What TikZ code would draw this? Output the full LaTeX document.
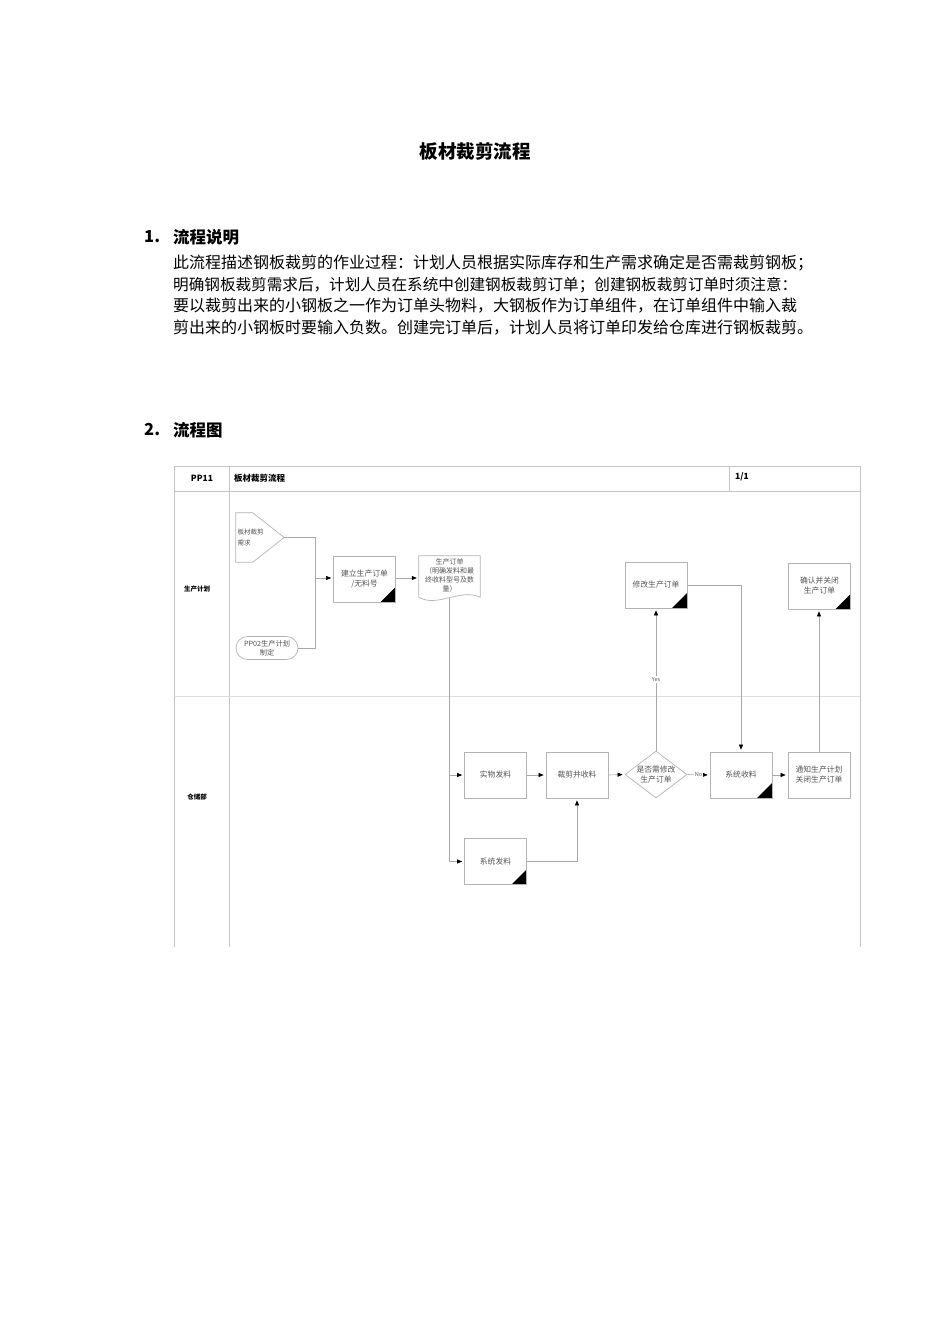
\documentclass[tikz,border=0pt]{standalone}
\usepackage{fontspec}
\setmainfont{Noto Sans CJK SC}
\usetikzlibrary{arrows.meta,shapes.geometric,shapes.misc}
\definecolor{frameC}{HTML}{C4C4C4}
\definecolor{laneC}{HTML}{DEDEDE}
\definecolor{boxC}{HTML}{B4B4B4}
\definecolor{lineC}{HTML}{A8A8A8}
\definecolor{boxtxt}{HTML}{555555}
\begin{document}
\begin{tikzpicture}[x=1pt,y=-1pt,
  frame/.style={draw=frameC,line width=0.8pt},
  lanediv/.style={draw=laneC,line width=0.8pt},
  title/.style={font=\bfseries\fontsize{18.5}{22}\selectfont,inner sep=0pt},
  heading/.style={font=\bfseries\fontsize{16.5}{20}\selectfont,inner sep=0pt,anchor=west},
  para/.style={font=\fontsize{16}{20}\selectfont,inner sep=0pt,anchor=west},
  hdr/.style={font=\bfseries\fontsize{8.5}{10}\selectfont,inner sep=0pt},
  lane/.style={font=\bfseries\fontsize{6.5}{8}\selectfont,inner sep=0pt},
  boxtext/.style={font=\fontsize{7.8}{10}\selectfont,text=boxtxt,align=center},
  box/.style={draw=boxC,line width=0.7pt,fill=white,minimum width=62pt,minimum height=46pt,inner sep=1pt,boxtext},
  corner/.style={path picture={\fill[black] (path picture bounding box.south east) -- ++(-15pt,0pt) -- ++(15pt,15pt) -- cycle;}},
  dia/.style={draw=boxC,line width=0.7pt,diamond,minimum width=62pt,minimum height=47pt,inner sep=0pt},
  conn/.style={draw=lineC,line width=0.6pt},
  arr/.style={conn,-{Triangle[length=5pt,width=4pt,color=black]},shorten >=2pt},
  lbl/.style={font=\fontsize{5.5}{6}\selectfont,text=boxtxt,fill=white,inner sep=1pt}
]
\useasboundingbox (0,0) rectangle (950,1344);
\fill[white] (0,0) rectangle (950,1344);

% ---- texts ----
\node[title] (t0) at (475,151) {板材裁剪流程};
\node[heading] (h1n) at (144,237) {1.};
\node[heading] (h1) at (173,237) {流程说明};
\node[para] (p1) at (173,263.5) {此流程描述钢板裁剪的作业过程：计划人员根据实际库存和生产需求确定是否需裁剪钢板；};
\node[para,font=\fontsize{15.6}{20}\selectfont] (p2) at (173,285) {明确钢板裁剪需求后，计划人员在系统中创建钢板裁剪订单；创建钢板裁剪订单时须注意：};
\node[para] (p3) at (173,306) {要以裁剪出来的小钢板之一作为订单头物料，大钢板作为订单组件，在订单组件中输入裁};
\node[para] (p4) at (173,327.5) {剪出来的小钢板时要输入负数。创建完订单后，计划人员将订单印发给仓库进行钢板裁剪。};
\node[heading] (h2n) at (144,430) {2.};
\node[heading] (h2) at (173,430) {流程图};

% ---- frame ----
\draw[frame] (174,466) -- (860,466);
\draw[frame] (174,491) -- (860,491);
\draw[frame] (174,466) -- (174,947);
\draw[frame] (229.5,466) -- (229.5,947);
\draw[frame] (729,466) -- (729,491);
\draw[frame] (860,466) -- (860,947);
\draw[lanediv] (174,696) -- (860,696);

\node[hdr] (hpp) at (202,478) {PP11};
\node[hdr,anchor=west] (hname) at (234,478) {板材裁剪流程};
\node[hdr,anchor=west] (hpage) at (735,477) {1/1};
\node[lane] (l1) at (197,589) {生产计划};
\node[lane] (l2) at (197,797) {仓储部};

% ---- planning lane ----
\node[minimum width=48pt,minimum height=49pt,inner sep=0pt] (dem) at (260,537.5) {};
\draw[draw=boxC,line width=0.7pt,fill=white] (dem.north west) -- ([xshift=17pt]dem.north west) -- (dem.east)
  -- ([xshift=17pt]dem.south west) -- (dem.south west) -- cycle;
\node[font=\fontsize{6.5}{11}\selectfont,text=boxtxt,align=left,anchor=west,inner sep=0pt] (demt) at (237.5,537.5) {板材裁剪\\需求};
\node[rounded rectangle,draw=boxC,line width=0.7pt,minimum width=62pt,minimum height=23pt,inner sep=0pt,boxtext,font=\fontsize{7.2}{9}\selectfont] (pp02) at (267,648) {PP02生产计划\\制定};
\coordinate (j1) at (315.5,578);
\node[box,corner] (b1) at (364.5,579) {建立生产订单\\/无料号};
\node[minimum width=61pt,minimum height=41pt,inner sep=0pt] (doc) at (449.5,576.5) {};
\draw[draw=boxC,line width=0.7pt,fill=white] (doc.south west) -- (doc.north west) -- (doc.north east) -- (doc.south east)
  .. controls (460,588) and (437,608) .. (doc.south west);
\node[boxtext,font=\fontsize{7}{9}\selectfont,inner sep=0pt] (doct) at (449.5,575.5) {生产订单\\（明确发料和最\\终收料型号及数\\量）};
\coordinate (docb) at (449,597.6);
\node[box,corner] (m1) at (656,585) {修改生产订单};
\node[box,corner] (c1) at (819.5,586) {确认并关闭\\生产订单};

% ---- warehouse lane ----
\node[box] (w1) at (495.5,775) {实物发料};
\node[box] (w2) at (577,775) {裁剪并收料};
\node[dia] (d1) at (656,774.5) {};
\node[boxtext,inner sep=0pt] (d1t) at (656,774.5) {是否需修改\\生产订单};
\node[box,corner] (w3) at (741,775) {系统收料};
\node[box] (w4) at (819,775) {通知生产计划\\关闭生产订单};
\node[box,corner] (w5) at (495.5,861.5) {系统发料};
\coordinate (j2) at (449,861.5);

% ---- connectors ----
\draw[conn] (dem.east) -| (j1);
\draw[conn] (pp02.east) -| (j1);
\draw[arr] (j1) -- (j1 -| b1.west);
\draw[arr] (b1.east |- j1) -- (j1 -| doc.west);
\draw[conn] (docb) -- (j2);
\draw[arr] (w1.west -| j2) -- (w1.west);
\draw[arr] (j2) -- (w5.west);
\draw[arr] (w1.east) -- (w2.west);
\draw[arr] (w5.east) -| (w2.south);
\draw[arr] (w2.east) -- (d1.west);
\draw[arr] (d1.east) -- node[lbl]{No} (w3.west);
\draw[arr] (d1.north) -- node[lbl,pos=0.5]{Yes} (m1.south);
\draw[arr] (m1.east) -| (w3.north);
\draw[arr] (w3.east) -- (w4.west);
\draw[arr] (w4.north) -- (w4.north |- c1.south);
\end{tikzpicture}
\end{document}
